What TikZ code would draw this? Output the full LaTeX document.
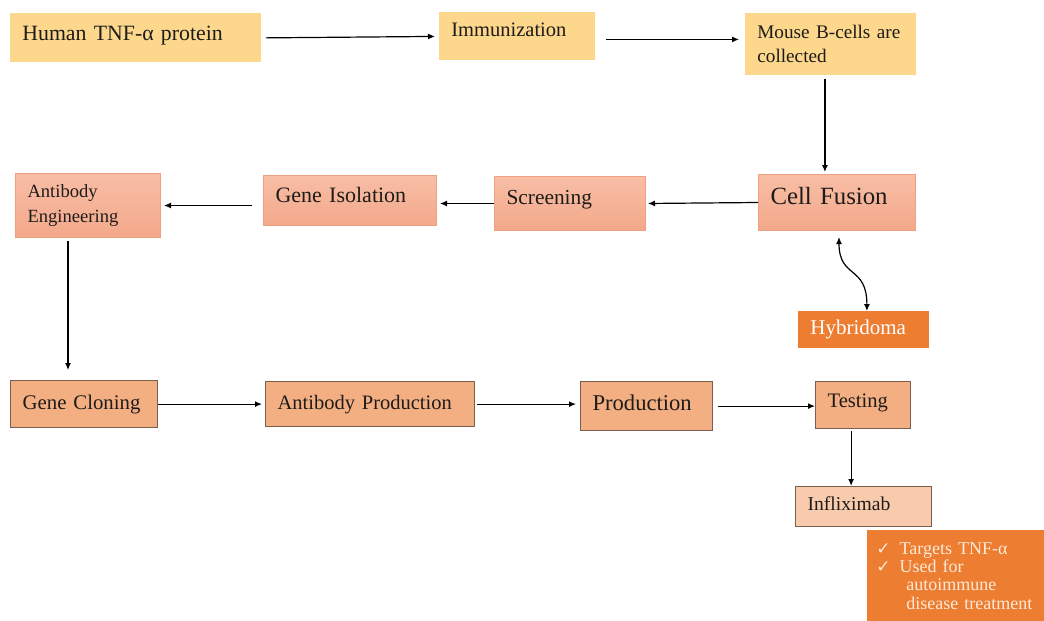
\documentclass[tikz,border=0pt]{standalone}
\usepackage{fontspec}
\setmainfont{Liberation Serif}
\newfontfamily\symfont{DejaVu Sans}
\usetikzlibrary{arrows.meta,positioning}
\definecolor{ink}{RGB}{30,28,26}
\definecolor{yel}{RGB}{252,215,140}
\definecolor{saltop}{RGB}{248,190,166}
\definecolor{salbot}{RGB}{243,168,138}
\definecolor{salline}{RGB}{238,160,130}
\definecolor{prodfill}{RGB}{243,175,130}
\definecolor{prodline}{RGB}{120,95,80}
\definecolor{hybor}{RGB}{237,125,49}
\definecolor{inffill}{RGB}{248,203,173}
\definecolor{cream}{RGB}{253,234,216}
\tikzset{
  box/.style={anchor=north west,inner xsep=6pt,inner ysep=2pt,align=left,text=ink},
  start/.style={box,fill=yel},
  mid/.style={box,draw=salline,top color=saltop,bottom color=salbot,line width=0.5pt},
  prod/.style={box,draw=prodline,fill=prodfill,line width=0.6pt},
  hyb/.style={box,fill=hybor,text=white},
  infl/.style={box,draw=prodline,fill=inffill,line width=0.6pt},
  note/.style={anchor=north west,fill=hybor,text=cream,inner xsep=4.5pt,inner ysep=2pt,align=left},
  arr/.style={-{Latex[length=3.5pt,width=3pt]},line width=0.6pt},
  dbl/.style={{Latex[length=3.5pt,width=3pt]}-{Latex[length=3.5pt,width=3pt]},line width=0.6pt},
}

\begin{document}
\begin{tikzpicture}[x=0.5pt,y=-0.5pt]
  \useasboundingbox (0,0) rectangle (1044,621);
  % first row
  \node[start,text width=113.5pt,minimum height=24.5pt,text depth=5pt,font=\fontsize{10.9}{13}\selectfont] (hum) at (10,13) {Human TNF-α protein};
  \node[start,text width=66pt,minimum height=24pt,text depth=6.5pt,font=\fontsize{10.25}{12}\selectfont] (imm) at (439,12) {Immunization};
  \node[start,text width=73.5pt,minimum height=31pt,font=\fontsize{9.6}{12}\selectfont] (mouse) at (745,13) {Mouse B-cells are\\collected};
  % second row
  \node[mid,text width=60.5pt,minimum height=32pt,font=\fontsize{9.3}{12.5}\selectfont] (eng) at (15,173) {Antibody\\Engineering};
  \node[mid,text width=74.5pt,minimum height=25pt,text depth=5.5pt,font=\fontsize{11}{13}\selectfont] (iso) at (263,175) {Gene Isolation};
  \node[mid,text width=63.5pt,minimum height=27pt,text depth=6.5pt,font=\fontsize{10.7}{13}\selectfont] (scr) at (494,176) {Screening};
  \node[mid,text width=66.5pt,minimum height=28pt,text depth=7pt,font=\fontsize{12.4}{15}\selectfont] (fus) at (758,174) {Cell Fusion};
  \node[hyb,text width=53.5pt,minimum height=18.5pt,font=\fontsize{10.5}{13}\selectfont] (hyb) at (798,311) {Hybridoma};
  % third row
  \node[prod,text width=61.5pt,minimum height=23.5pt,font=\fontsize{10.4}{13}\selectfont] (clo) at (10,380) {Gene Cloning};
  \node[prod,text width=92.5pt,minimum height=22.5pt,font=\fontsize{10.25}{12}\selectfont] (abp) at (265,381) {Antibody Production};
  \node[prod,text width=54pt,minimum height=24.5pt,text depth=3.5pt,font=\fontsize{11.3}{14}\selectfont] (pro) at (580,381) {Production};
  \node[prod,text width=35.5pt,minimum height=23.5pt,text depth=4pt,font=\fontsize{10.3}{12}\selectfont] (tst) at (815,381) {Testing};
  \node[infl,text width=56pt,minimum height=20pt,text depth=3.5pt,font=\fontsize{9.8}{12}\selectfont] (inf) at (795,486) {Infliximab};
  \node[note,text width=79.5pt,minimum height=45.5pt,font=\fontsize{9}{9.2}\selectfont] (note) at (867,530)
    {{\symfont\fontsize{8.5}{9}\selectfont ✓}\hspace{4.5pt}Targets TNF-α\\
     {\symfont\fontsize{8.5}{9}\selectfont ✓}\hspace{4.5pt}Used for\\
     \hspace*{15pt}autoimmune\\
     \hspace*{15pt}disease treatment};
  % arrows
  \draw[arr,shorten <=2pt,shorten >=2pt] (hum.east) -- (imm.west);
  \draw[arr,shorten <=5pt,shorten >=3pt] ([yshift=-1.5pt]imm.east) -- ([yshift=-1.5pt]imm.east -| mouse.west);
  \draw[arr,shorten <=1.5pt,shorten >=1pt] ([xshift=-3pt]mouse.south) -- ([xshift=-3pt]mouse.south |- fus.north);
  \draw[arr,shorten >=1pt] (fus.west) -- (scr.east);
  \draw[arr,shorten >=1.5pt] (scr.west) -- (scr.west -| iso.east);
  \draw[arr,shorten <=5.5pt,shorten >=1.5pt] (eng.east -| iso.west) -- (eng.east);
  \draw[arr,shorten <=1.5pt,shorten >=5pt] ([xshift=-10pt]eng.south) -- ([xshift=-10pt]eng.south |- clo.north);
  \draw[arr,shorten >=1.5pt] (clo.east) -- (abp.west);
  \draw[arr,shorten <=1pt,shorten >=2pt] (abp.east) -- (abp.east -| pro.west);
  \draw[arr,shorten <=2.5pt] (pro.east) -- (pro.east -| tst.west);
  \draw[arr,shorten <=1pt] ([xshift=-6pt]tst.south) -- ([xshift=-6pt]tst.south |- inf.north);
  \draw[dbl] ([shift={(1pt,-3pt)}]fus.south) .. controls +(0,-21pt) and +(0,23pt) .. ([xshift=1.5pt]hyb.north);
\end{tikzpicture}
\end{document}
